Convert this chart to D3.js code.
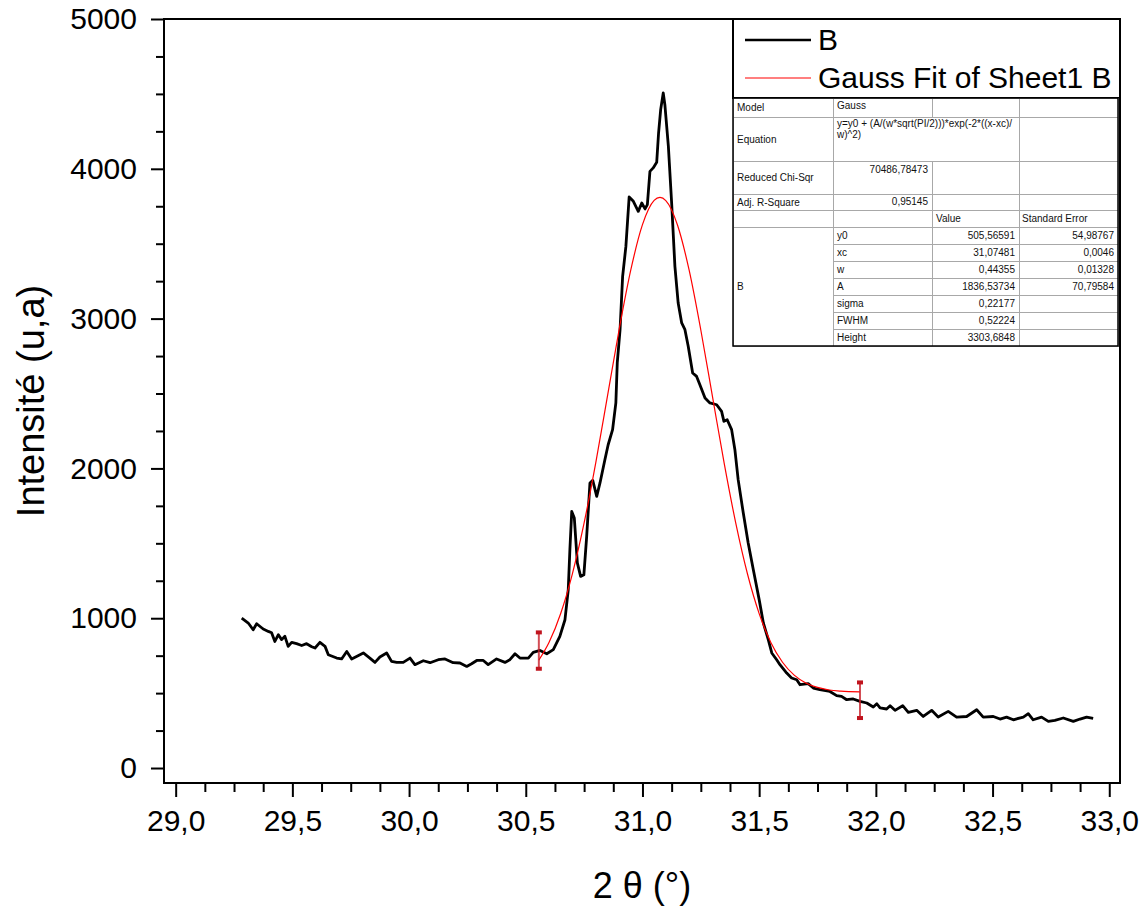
<!DOCTYPE html>
<html>
<head>
<meta charset="utf-8">
<script src="https://cdn.jsdelivr.net/npm/d3@7"></script>
<style>
    body { margin: 0; background: #ffffff; }
    text { font-family: Arial, 'Liberation Sans', sans-serif; }
</style>
</head>
<body>
<svg id="drawing_region"></svg>
<script>
// measured pattern (black line)
const twoTheta = [29.283, 29.311, 29.332, 29.347, 29.375, 29.397, 29.411, 29.425, 29.440, 29.454,
    29.468, 29.482, 29.497, 29.518, 29.540, 29.561, 29.583, 29.597, 29.618, 29.640,
    29.654, 29.690, 29.711, 29.733, 29.754, 29.775, 29.804, 29.832, 29.854, 29.875,
    29.904, 29.925, 29.947, 29.975, 30.004, 30.025, 30.061, 30.090, 30.125, 30.154,
    30.189, 30.218, 30.247, 30.268, 30.290, 30.318, 30.339, 30.375, 30.411, 30.432,
    30.454, 30.475, 30.511, 30.532, 30.561, 30.590, 30.618, 30.646, 30.668, 30.682,
    30.689, 30.697, 30.708, 30.721, 30.735, 30.749, 30.761, 30.775, 30.787, 30.804,
    30.818, 30.839, 30.853, 30.872, 30.886, 30.892, 30.904, 30.915, 30.929, 30.943,
    30.961, 30.982, 30.997, 31.011, 31.021, 31.032, 31.046, 31.061, 31.069, 31.078,
    31.089, 31.096, 31.111, 31.125, 31.139, 31.153, 31.168, 31.182, 31.196, 31.215,
    31.232, 31.246, 31.268, 31.289, 31.318, 31.339, 31.349, 31.363, 31.382, 31.396,
    31.410, 31.432, 31.453, 31.475, 31.500, 31.518, 31.539, 31.554, 31.575, 31.589,
    31.618, 31.639, 31.661, 31.675, 31.710, 31.732, 31.760, 31.803, 31.832, 31.853,
    31.875, 31.903, 31.932, 31.961, 31.989, 32.004, 32.018, 32.046, 32.061, 32.082,
    32.115, 32.139, 32.175, 32.203, 32.239, 32.267, 32.310, 32.346, 32.389, 32.432,
    32.460, 32.503, 32.532, 32.560, 32.589, 32.632, 32.653, 32.674, 32.710, 32.739,
    32.767, 32.803, 32.846, 32.875, 32.903, 32.931];
const intensity = [1001, 968, 923, 963, 928, 912, 903, 845, 890, 857,
    879, 812, 839, 830, 818, 830, 810, 801, 839, 812,
    756, 734, 728, 778, 728, 745, 768, 734, 705, 741,
    768, 712, 705, 705, 734, 690, 716, 703, 723, 728,
    703, 701, 678, 696, 718, 718, 690, 728, 705, 723,
    763, 734, 734, 772, 785, 763, 790, 879, 990, 1190,
    1457, 1713, 1669, 1369, 1279, 1290, 1546, 1903, 1920, 1813,
    1903, 2058, 2158, 2259, 2437, 2704, 2926, 3282, 3482, 3812,
    3783, 3716, 3772, 3732, 3761, 3983, 4006, 4043, 4239, 4395,
    4506, 4428, 4150, 3772, 3349, 3104, 2971, 2926, 2815, 2637,
    2614, 2559, 2470, 2437, 2425, 2381, 2314, 2325, 2259, 2125,
    1925, 1702, 1502, 1324, 1124, 968, 857, 768, 723, 690,
    634, 601, 589, 556, 563, 534, 523, 511, 483, 478,
    456, 461, 445, 434, 407, 429, 401, 394, 416, 385,
    416, 371, 385, 344, 385, 340, 378, 340, 344, 389,
    340, 344, 327, 340, 322, 340, 363, 322, 340, 311,
    318, 334, 311, 327, 340, 331];

// fitted curve (red line)
const fitTheta = [30.556, 30.60, 30.65, 30.70, 30.75, 30.80, 30.85, 30.90, 30.95, 31.00,
    31.05, 31.075, 31.10, 31.15, 31.20, 31.25, 31.30, 31.35, 31.40, 31.45,
    31.50, 31.55, 31.60, 31.65, 31.70, 31.75, 31.80, 31.85, 31.932];
const fitIntensity = [720, 839, 1033, 1298, 1636, 2039, 2482, 2927, 3325, 3627,
    3789, 3809, 3788, 3625, 3323, 2924, 2479, 2035, 1633, 1295,
    1031, 838, 706, 620, 568, 538, 521, 513, 508];

// fit range markers
const markerTheta = [30.556, 31.932];
const markerLow = [656, 327];
const markerHigh = [912, 578];

const xTicks = [29.0, 29.5, 30.0, 30.5, 31.0, 31.5, 32.0, 32.5, 33.0];
const yTicks = [0, 1000, 2000, 3000, 4000, 5000];

const legendLabels = ['B', 'Gauss Fit of Sheet1 B'];
const legendColors = ['#000000', '#ff0000'];

const modelName = 'Gauss';
const equationLines = ['y=y0 + (A/(w*sqrt(PI/2)))*exp(-2*((x-xc)/', 'w)^2)'];
const chiSqr = '70486,78473';
const adjR2 = '0,95145';
const paramNames = ['y0', 'xc', 'w', 'A', 'sigma', 'FWHM', 'Height'];
const paramValues = ['505,56591', '31,07481', '0,44355', '1836,53734', '0,22177', '0,52224', '3303,6848'];
const paramErrors = ['54,98767', '0,0046', '0,01328', '70,79584', '', '', ''];

class XrdPlot {

    constructor( config ) {
        this.config = {
            parent: config.parent,
            width: config.width || 1142,
            height: config.height || 914,
            margin: config.margin || {top:19, right:22, bottom:131, left:164}
        }
        this.init();
    }

    init() {
        let self = this;

        self.svg = d3.select( self.config.parent )
            .attr('width', self.config.width)
            .attr('height', self.config.height);

        self.inner_width = self.config.width - self.config.margin.left - self.config.margin.right;
        self.inner_height = self.config.height - self.config.margin.top - self.config.margin.bottom;

        self.chart = self.svg.append('g')
            .attr('transform', `translate(${self.config.margin.left}, ${self.config.margin.top})`);

        self.xscale = d3.scaleLinear()
            .domain( [28.95, 33.046] )
            .range( [0, self.inner_width] );

        self.yscale = d3.scaleLinear()
            .domain( [-100, 5000] )
            .range( [self.inner_height, 0] );

        const comma = d => d3.format('.1f')(d).replace('.', ',');

        self.xaxis = d3.axisBottom( self.xscale )
            .tickValues( xTicks )
            .tickSize(14)
            .tickPadding(13)
            .tickFormat( comma );

        self.xminor = d3.axisBottom( self.xscale )
            .tickValues( d3.range(29.125, 33, 0.125).filter(v => Math.abs(v*2 - Math.round(v*2)) > 0.01) )
            .tickSize(9)
            .tickFormat( () => '' );

        self.yaxis = d3.axisLeft( self.yscale )
            .tickValues( yTicks )
            .tickSize(13)
            .tickPadding(14)
            .tickFormat( d3.format('d') );

        self.yminor = d3.axisLeft( self.yscale )
            .tickValues( d3.range(250, 5000, 250).filter(v => v % 1000 != 0) )
            .tickSize(8)
            .tickFormat( () => '' );
    }

    render() {
        let self = this;

        const fixAxis = g => {
            g.select('.domain').remove();
            g.selectAll('line').attr('stroke', '#000').attr('stroke-width', 2);
            g.selectAll('text')
                .attr('fill', '#000')
                .style('font-size', '30px');
        };

        self.chart.append('g')
            .attr('transform', `translate(0, ${self.inner_height})`)
            .call( self.xaxis ).call( fixAxis );
        self.chart.append('g')
            .attr('transform', `translate(0, ${self.inner_height})`)
            .call( self.xminor ).call( fixAxis );
        self.chart.append('g')
            .call( self.yaxis ).call( fixAxis );
        self.chart.append('g')
            .call( self.yminor ).call( fixAxis );

        const measured = twoTheta.map( (t, i) => ({x: t, y: intensity[i]}) );
        const fitted = fitTheta.map( (t, i) => ({x: t, y: fitIntensity[i]}) );

        self.chart.append('path')
            .datum( measured )
            .attr('fill', 'none')
            .attr('stroke', '#000')
            .attr('stroke-width', 2.8)
            .attr('stroke-linejoin', 'round')
            .attr('d', d3.line().x(d => self.xscale(d.x)).y(d => self.yscale(d.y)));

        self.chart.append('path')
            .datum( fitted )
            .attr('fill', 'none')
            .attr('stroke', '#ff0000')
            .attr('stroke-width', 1.2)
            .attr('d', d3.line().curve(d3.curveMonotoneX).x(d => self.xscale(d.x)).y(d => self.yscale(d.y)));

        // fit range markers
        const markers = self.chart.selectAll('.marker')
            .data( markerTheta )
            .enter()
            .append('g');
        markers.append('line')
            .attr('x1', d => self.xscale(d))
            .attr('x2', d => self.xscale(d))
            .attr('y1', (d, i) => self.yscale(markerLow[i]))
            .attr('y2', (d, i) => self.yscale(markerHigh[i]))
            .attr('stroke', '#c8202a')
            .attr('stroke-opacity', 0.8)
            .attr('stroke-width', 2);
        markers.append('rect')
            .attr('x', d => self.xscale(d) - 3)
            .attr('y', (d, i) => self.yscale(markerHigh[i]) - 1)
            .attr('width', 6).attr('height', 4)
            .attr('fill', '#c0141e');
        markers.append('rect')
            .attr('x', d => self.xscale(d) - 3)
            .attr('y', (d, i) => self.yscale(markerLow[i]) - 3)
            .attr('width', 6).attr('height', 4)
            .attr('fill', '#c0141e');

        // frame
        self.chart.append('rect')
            .attr('x', 0).attr('y', 0)
            .attr('width', self.inner_width)
            .attr('height', self.inner_height)
            .attr('fill', 'none')
            .attr('stroke', '#000')
            .attr('stroke-width', 2);

        // axis titles
        self.svg.append('text')
            .attr('x', 642)
            .attr('y', 898)
            .attr('text-anchor', 'middle')
            .style('font-size', '36px')
            .text('2 θ (°)');

        self.svg.append('text')
            .attr('transform', 'translate(44, 401) rotate(-90)')
            .attr('text-anchor', 'middle')
            .style('font-size', '38px')
            .text('Intensité (u,a)');

        self.renderLegend();
        self.renderTable();
    }

    renderLegend() {
        let self = this;

        self.svg.append('rect')
            .attr('x', 733).attr('y', 19)
            .attr('width', 387).attr('height', 79)
            .attr('fill', '#fff')
            .attr('stroke', '#000')
            .attr('stroke-width', 2);

        const items = self.svg.selectAll('.legend')
            .data( legendLabels )
            .enter()
            .append('g')
            .attr('transform', (d, i) => `translate(745, ${40 + i*38})`);

        items.append('line')
            .attr('x1', 0).attr('x2', 66)
            .attr('stroke', (d, i) => legendColors[i])
            .attr('stroke-width', (d, i) => i == 0 ? 2.6 : 1.2);

        items.append('text')
            .attr('x', 73)
            .attr('y', 10)
            .style('font-size', '30px')
            .text(d => d);
    }

    renderTable() {
        let self = this;

        const colX = [733, 833, 932, 1019, 1118];
        const rowY = [98, 117, 161, 194, 210, 227, 244, 261, 278, 295, 312, 329, 346];
        const table = self.svg.append('g');

        const cells = [];
        [0, 2, 3, 4].forEach(r => [0, 1, 2, 3].forEach(c => cells.push([r, r+1, c, c+1])));
        cells.push([1, 2, 0, 1], [1, 2, 1, 3], [1, 2, 3, 4]);
        for (let r = 5; r < 12; r++) [1, 2, 3].forEach(c => cells.push([r, r+1, c, c+1]));
        cells.push([5, 12, 0, 1]);

        table.append('rect')
            .attr('x', colX[0]).attr('y', rowY[0])
            .attr('width', colX[4] - colX[0]).attr('height', rowY[12] - rowY[0])
            .attr('fill', '#fff');

        table.selectAll('.cell')
            .data( cells )
            .enter()
            .append('rect')
            .attr('x', d => colX[d[2]] + 0.5)
            .attr('y', d => rowY[d[0]] + 0.5)
            .attr('width', d => colX[d[3]] - colX[d[2]])
            .attr('height', d => rowY[d[1]] - rowY[d[0]])
            .attr('fill', 'none')
            .attr('stroke', '#a8a8a8')
            .attr('stroke-width', 1);

        table.append('rect')
            .attr('x', colX[0]).attr('y', rowY[0])
            .attr('width', colX[4] - colX[0]).attr('height', rowY[12] - rowY[0])
            .attr('fill', 'none')
            .attr('stroke', '#000')
            .attr('stroke-width', 1.5);

        const put = (txt, x, y, anchor) => table.append('text')
            .attr('x', x).attr('y', y)
            .attr('text-anchor', anchor || 'start')
            .attr('fill', '#111')
            .style('font-size', '10px')
            .text(txt);

        const mid = r => (rowY[r] + rowY[r+1]) / 2 + 3.5;
        put('Model', colX[0] + 4, mid(0));
        put(modelName, colX[1] + 4, rowY[0] + 11);
        put('Equation', colX[0] + 4, mid(1));
        equationLines.forEach((l, i) => put(l, colX[1] + 4, rowY[1] + 10 + i*11));
        put('Reduced Chi-Sqr', colX[0] + 4, mid(2));
        put(chiSqr, colX[2] - 4, rowY[2] + 12, 'end');
        put('Adj. R-Square', colX[0] + 4, mid(3));
        put(adjR2, colX[2] - 4, rowY[3] + 11, 'end');
        put('Value', colX[2] + 4, mid(4));
        put('Standard Error', colX[3] + 3, mid(4));
        put('B', colX[0] + 4, (rowY[5] + rowY[12]) / 2 + 3.5);
        paramNames.forEach((n, i) => {
            put(n, colX[1] + 4, mid(5 + i));
            put(paramValues[i], colX[3] - 4, mid(5 + i), 'end');
            put(paramErrors[i], colX[4] - 4, mid(5 + i), 'end');
        });
    }
}

const plot = new XrdPlot({ parent: '#drawing_region' });
plot.render();
</script>
</body>
</html>
